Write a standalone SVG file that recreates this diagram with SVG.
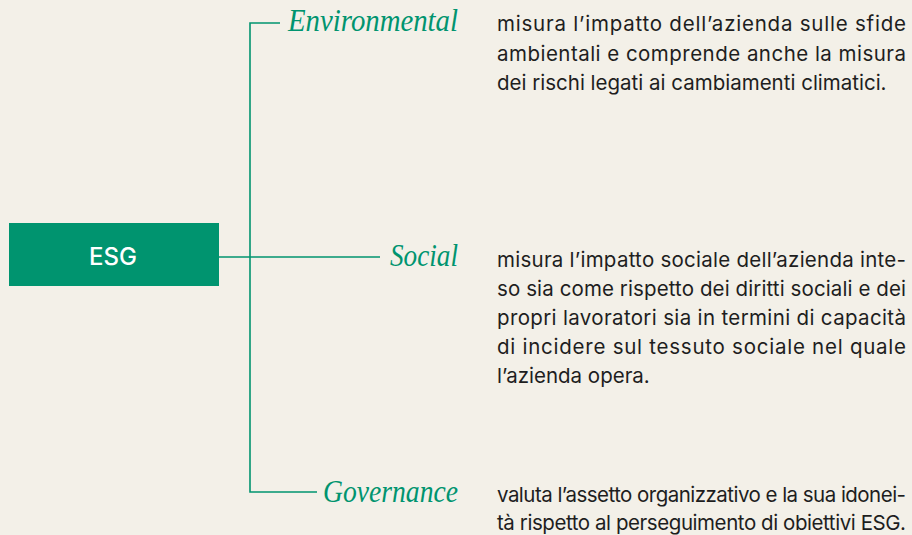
<svg xmlns="http://www.w3.org/2000/svg" width="912" height="535" viewBox="0 0 912 535">
<style>
.bg{fill:#f3f0e8}
.conn{stroke:#00946f;stroke-width:1.6;fill:none}
.head{font-family:"Liberation Serif",serif;font-style:italic;font-size:31px;fill:#00946f}
.body{font-family:Inter,"Liberation Sans",Arial,sans-serif;font-size:20.5px;fill:#1e1e1e}
.esg{font-family:Inter,"Liberation Sans",Arial,sans-serif;font-size:24px;font-weight:500;fill:#ffffff;text-anchor:middle}
</style>
<rect class="bg" x="0" y="0" width="912" height="535"/>
<g id="connectors">
<path class="conn" d="M280,23 H250 V492 H317"/>
<path class="conn" d="M219,257 H380"/>
</g>
<g id="esg">
<rect x="9" y="223" width="210" height="63" fill="#00946f"/>
<text class="esg" x="113" y="265">ESG</text>
</g>
<g id="environmental">
<text class="head" x="288" y="31" textLength="170" lengthAdjust="spacingAndGlyphs">Environmental</text>
<text class="body" x="497" y="31" textLength="409" lengthAdjust="spacing">misura l’impatto dell’azienda sulle sfide</text>
<text class="body" x="497" y="61" textLength="409" lengthAdjust="spacing">ambientali e comprende anche la misura</text>
<text class="body" x="497" y="90">dei rischi legati ai cambiamenti climatici.</text>
</g>
<g id="social">
<text class="head" x="390" y="266" textLength="68" lengthAdjust="spacingAndGlyphs">Social</text>
<text class="body" x="497" y="267" textLength="409" lengthAdjust="spacing">misura l’impatto sociale dell’azienda inte-</text>
<text class="body" x="497" y="296" textLength="409" lengthAdjust="spacing">so sia come rispetto dei diritti sociali e dei</text>
<text class="body" x="497" y="325" textLength="409" lengthAdjust="spacing">propri lavoratori sia in termini di capacità</text>
<text class="body" x="497" y="354" textLength="409" lengthAdjust="spacing">di incidere sul tessuto sociale nel quale</text>
<text class="body" x="497" y="383">l’azienda opera.</text>
</g>
<g id="governance">
<text class="head" x="323" y="502" textLength="135" lengthAdjust="spacingAndGlyphs">Governance</text>
<text class="body" x="497" y="502" textLength="409" lengthAdjust="spacing">valuta l’assetto organizzativo e la sua idonei-</text>
<text class="body" x="497" y="530" textLength="409" lengthAdjust="spacing">tà rispetto al perseguimento di obiettivi ESG.</text>
</g>
</svg>
